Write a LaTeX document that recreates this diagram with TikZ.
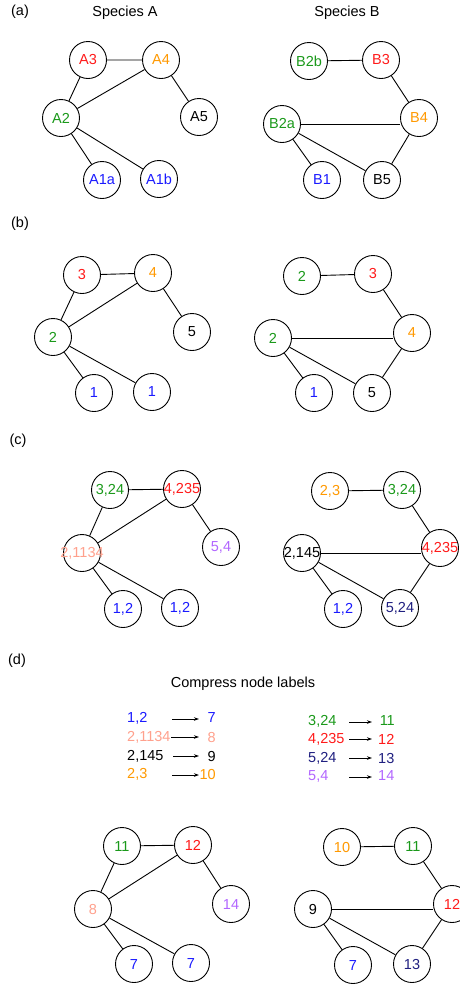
\documentclass[tikz,border=0pt]{standalone}
\usepackage{fontspec}
\setmainfont{Liberation Sans}
\usetikzlibrary{arrows.meta}
\definecolor{cred}{HTML}{FF1A1A}
\definecolor{corange}{HTML}{FF9900}
\definecolor{cgreen}{HTML}{1A991A}
\definecolor{cblue}{HTML}{1A1AFF}
\definecolor{csalmon}{HTML}{FFA08C}
\definecolor{cpurple}{HTML}{B266FF}
\definecolor{cnavy}{HTML}{1F1F80}
\tikzset{
  x=1pt, y=-1pt,
  txt/.style={font=\fontsize{14.5}{17}\selectfont, inner sep=0pt},
  vtx/.style={circle, draw=black, line width=0.9pt, minimum size=37pt, inner sep=0pt, fill=white},
  edge/.style={draw=black, line width=0.9pt},
  maparrow/.style={draw=black, line width=0.9pt, -{Stealth[length=5pt,width=3.5pt]}},
}
% a vertex: #1 name, #2 position, #3 colour, #4 text
\newcommand{\vtxnode}[4]{\node[vtx, label={[txt, text=#3]center:#4}] (#1) at (#2) {};}
\begin{document}
\begin{tikzpicture}
\useasboundingbox (0,0) rectangle (460,986);

% ---------- (a) ----------
\node[txt] (la) at (20,12) {(a)};
\node[txt] (tA) at (125,13) {Species A};
\node[txt] (tB) at (347,13) {Species B};

\vtxnode{A3}{88,60}{cred}{A3}
\vtxnode{A4}{161,60}{corange}{A4}
\vtxnode{A2}{61,118}{cgreen}{A2}
\vtxnode{A5}{199,117}{black}{A5}
\vtxnode{A1a}{102,180}{cblue}{A1a}
\vtxnode{A1b}{159,179}{cblue}{A1b}
\draw[edge] (A3) -- (A4) (A3) -- (A2) (A2) -- (A4) (A4) -- (A5) (A2) -- (A1a) (A2) -- (A1b);

\vtxnode{B2b}{309,61}{cgreen}{B2b}
\vtxnode{B3}{381,60}{cred}{B3}
\vtxnode{B2a}{282,124}{cgreen}{B2a}
\vtxnode{B4}{419,118}{corange}{B4}
\vtxnode{B1}{322,180}{cblue}{B1}
\vtxnode{B5}{382,180}{black}{B5}
\draw[edge] (B2b) -- (B3) (B3) -- (B4) (B4) -- (B5) (B2a) -- (B5) (B2a) -- (B1);
\draw[edge] (B2a) -- (B2a -| B4.west);

% ---------- (b) ----------
\node[txt] (lb) at (20,224) {(b)};
\vtxnode{b3}{82,275}{cred}{3}
\vtxnode{b4}{153,273}{corange}{4}
\vtxnode{b2}{53,337}{cgreen}{2}
\vtxnode{b5}{192,332}{black}{5}
\vtxnode{b1a}{94,393}{cblue}{1}
\vtxnode{b1b}{152,392}{cblue}{1}
\draw[edge] (b3) -- (b4) (b3) -- (b2) (b2) -- (b4) (b4) -- (b5) (b2) -- (b1a) (b2) -- (b1b);

\vtxnode{bb2t}{302,276}{cgreen}{2}
\vtxnode{bb3}{373,274}{cred}{3}
\vtxnode{bb2}{273,338}{cgreen}{2}
\vtxnode{bb4}{412,333}{corange}{4}
\vtxnode{bb1}{314,393}{cblue}{1}
\vtxnode{bb5}{372,393}{black}{5}
\draw[edge] (bb2t) -- (bb3) (bb3) -- (bb4) (bb4) -- (bb5) (bb2) -- (bb5) (bb2) -- (bb1);
\draw[edge] (bb2) -- (bb2 -| bb4.west);

% ---------- (c) ----------
\node[txt] (lc) at (18,441) {(c)};
\vtxnode{c3}{110,490}{cgreen}{3,24}
\vtxnode{c4}{182,489}{cred}{4,235}
\vtxnode{c2}{82,553}{csalmon}{2,1134}
\vtxnode{c5}{221,547}{cpurple}{5,4}
\vtxnode{c1a}{123,609}{cblue}{1,2}
\vtxnode{c1b}{180,608}{cblue}{1,2}
\draw[edge] (c3) -- (c4) (c3) -- (c2) (c2) -- (c4) (c4) -- (c5) (c2) -- (c1a) (c2) -- (c1b);

\vtxnode{cc2t}{330,491}{corange}{2,3}
\vtxnode{cc3}{402,490}{cgreen}{3,24}
\vtxnode{cc2}{302,553}{black}{2,145}
\vtxnode{cc4}{440,548}{cred}{4,235}
\vtxnode{cc1}{343,609}{cblue}{1,2}
\vtxnode{cc5}{400,608}{cnavy}{5,24}
\draw[edge] (cc2t) -- (cc3) (cc3) -- (cc4) (cc4) -- (cc5) (cc2) -- (cc5) (cc2) -- (cc1);
\draw[edge] (cc2) -- (cc2 -| cc4.west);

% ---------- (d) ----------
\node[txt] (ld) at (17,661) {(d)};
\node[txt] (tC) at (243,684) {Compress node labels};

% left mapping column
\node[txt, anchor=west, text=cblue]   (k1) at (127,718) {1,2};
\node[txt, anchor=west, text=csalmon] (k2) at (127,737) {2,1134};
\node[txt, anchor=west, text=black]   (k3) at (127,756) {2,145};
\node[txt, anchor=west, text=corange] (k4) at (127,774) {2,3};
\node[txt, anchor=east, text=cblue]   (v1) at (216,718) {7};
\node[txt, anchor=east, text=csalmon] (v2) at (216,737) {8};
\node[txt, anchor=east, text=black]   (v3) at (216,756) {9};
\node[txt, anchor=east, text=corange] (v4) at (216,774) {10};
\coordinate (s1) at (172,719); \coordinate (e1) at (199,719);
\coordinate (s2) at (171,737); \coordinate (e2) at (199,737);
\coordinate (s3) at (173,756); \coordinate (e3) at (199,756);
\coordinate (s4) at (172,775); \coordinate (e4) at (199,775);
\foreach \i in {1,...,4} { \draw[maparrow] (s\i) -- (e\i); }

% right mapping column
\node[txt, anchor=west, text=cgreen]  (k5) at (308,721) {3,24};
\node[txt, anchor=west, text=cred]    (k6) at (308,739) {4,235};
\node[txt, anchor=west, text=cnavy]   (k7) at (308,758) {5,24};
\node[txt, anchor=west, text=cpurple] (k8) at (308,776) {5,4};
\node[txt, anchor=east, text=cgreen]  (v5) at (395,721) {11};
\node[txt, anchor=west, text=cred]    (v6) at (378,739) {12};
\node[txt, anchor=west, text=cnavy]   (v7) at (378,758) {13};
\node[txt, anchor=west, text=cpurple] (v8) at (378,776) {14};
\coordinate (s5) at (349,722); \coordinate (e5) at (372,722);
\coordinate (s6) at (349,739); \coordinate (e6) at (372,739);
\coordinate (s7) at (349,758); \coordinate (e7) at (372,758);
\coordinate (s8) at (349,777); \coordinate (e8) at (372,777);
\foreach \i in {5,...,8} { \draw[maparrow] (s\i) -- (e\i); }

% compressed graphs
\vtxnode{d11}{122,846}{cgreen}{11}
\vtxnode{d12}{193,845}{cred}{12}
\vtxnode{d8}{93,909}{csalmon}{8}
\vtxnode{d14}{231,904}{cpurple}{14}
\vtxnode{d7a}{134,964}{cblue}{7}
\vtxnode{d7b}{191,963}{cblue}{7}
\draw[edge] (d11) -- (d12) (d11) -- (d8) (d8) -- (d12) (d12) -- (d14) (d8) -- (d7a) (d8) -- (d7b);

\vtxnode{dd10}{342,847}{corange}{10}
\vtxnode{dd11}{413,846}{cgreen}{11}
\vtxnode{dd9}{313,909}{black}{9}
\vtxnode{dd12}{452,904}{cred}{12}
\vtxnode{dd7}{353,965}{cblue}{7}
\vtxnode{dd13}{412,964}{cnavy}{13}
\draw[edge] (dd10) -- (dd11) (dd11) -- (dd12) (dd12) -- (dd13) (dd9) -- (dd13) (dd9) -- (dd7);
\draw[edge] (dd9) -- (dd9 -| dd12.west);
\end{tikzpicture}
\end{document}
